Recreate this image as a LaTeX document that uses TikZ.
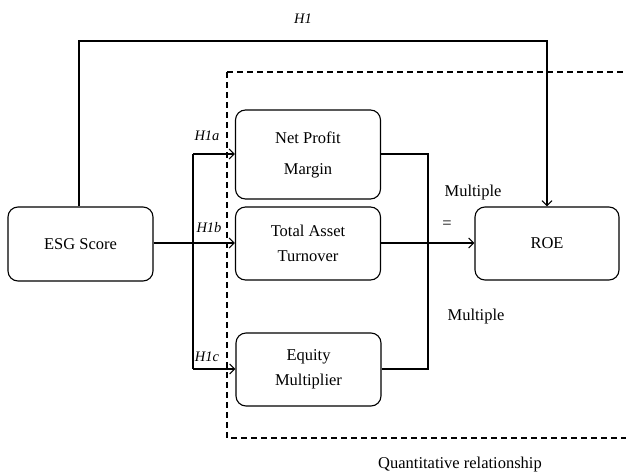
\documentclass[tikz,border=0pt]{standalone}
\usepackage{fontspec}
\setmainfont{Liberation Serif}
\usetikzlibrary{arrows.meta}
\begin{document}
\begin{tikzpicture}[x=1pt,y=-1pt,
  box/.style={draw,line width=1.1pt,rounded corners=10pt,align=center,font=\fontsize{16.5}{25}\selectfont,inner sep=0pt},
  conn/.style={line width=1.1pt},
  arr/.style={conn,-{Straight Barb[length=5pt,width=10pt,line width=1.1pt]}},
  lab/.style={font=\fontsize{14.5}{16}\itshape},
  txt/.style={font=\fontsize{16.5}{19}\selectfont}]
\useasboundingbox (0,0) rectangle (626,474);
\draw[line width=1.1pt,dash pattern=on 6pt off 4pt] (227,72) -- (640,72);
\draw[line width=1.1pt,dash pattern=on 6pt off 4pt] (227,72) -- (227,438) -- (640,438);
\node[box,minimum width=145pt,minimum height=74pt] (esg) at (80.5,244) {ESG Score};
\node[box,minimum width=145pt,minimum height=89pt,font=\fontsize{16.5}{31}\selectfont] (npm) at (308,154.5) {Net Profit\\Margin};
\node[box,minimum width=145pt,minimum height=73pt] (tat) at (308,243.5) {Total Asset\\Turnover};
\node[box,minimum width=145pt,minimum height=73pt] (em) at (308.5,369.5) {Equity\\Multiplier};
\node[box,minimum width=144pt,minimum height=73pt] (roe) at (547,243.5) {ROE};
\coordinate (br) at (193,243);
\coordinate (bt) at (193,154);
\coordinate (bb) at (193,369);
\coordinate (rt) at (428,154);
\coordinate (rb) at (428,369);
\coordinate (h1a) at (79,41);
\coordinate (h1b) at (547,41);
\draw[conn] (esg.east |- br) -- (br);
\draw[conn] (bt) -- (bb);
\draw[arr] (bt) -- (npm.west |- bt);
\draw[arr] (br) -- (tat.west |- br);
\draw[arr] (bb) -- (em.west |- bb);
\draw[conn] (npm.east |- rt) -- (rt) -- (rb) -- (em.east |- rb);
\draw[arr] (tat.east |- br) -- (roe.west |- br);
\draw[arr] (esg.north -| h1a) -- (h1a) -- (h1b) -- (roe.north -| h1b);
\node[lab] (l1) at (303,19) {H1};
\node[lab] (l1a) at (207,136) {H1a};
\node[lab] (l1b) at (209,228) {H1b};
\node[lab] (l1c) at (207,357) {H1c};
\node[txt] (eq) at (447,225) {=};
\node[txt] (m1) at (473,193) {Multiple};
\node[txt] (m2) at (476,317) {Multiple};
\node[txt] (q) at (460,465) {Quantitative relationship};
\end{tikzpicture}
\end{document}
